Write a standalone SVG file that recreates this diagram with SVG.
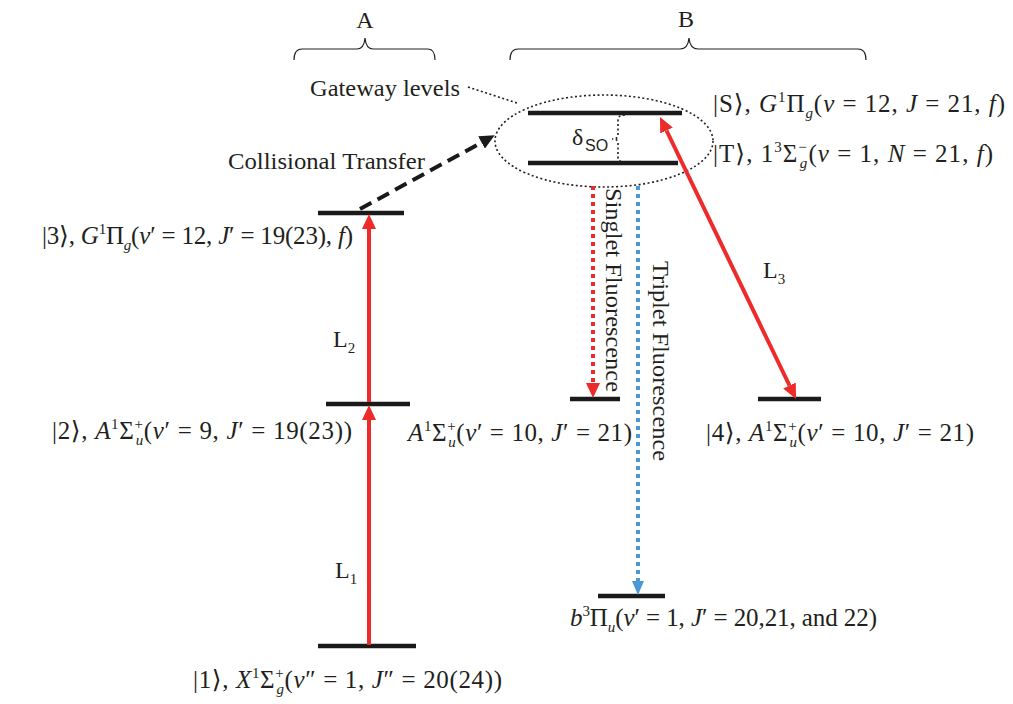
<svg xmlns="http://www.w3.org/2000/svg" width="1013" height="704" viewBox="0 0 1013 704">
<style>
.t{font-family:"Liberation Serif","DejaVu Serif",serif;font-size:24px;fill:#231f20}
.m{font-size:25px}
.i{font-style:italic}
.s{font-size:15px}
.lvl{stroke:#1a1a1a;stroke-width:4.5;fill:none}
.brace{stroke:#231f20;stroke-width:1.2;fill:none}
.dot{stroke:#231f20;stroke-width:1.6;fill:none;stroke-dasharray:2 2.5}
.red{stroke:#ee2b2b;stroke-width:4;fill:none}
.reddot{stroke:#ee2b2b;stroke-width:4;fill:none;stroke-dasharray:4 4}
.bluedot{stroke:#4a98d6;stroke-width:4;fill:none;stroke-dasharray:4 4}
.dash{stroke:#1a1a1a;stroke-width:4;fill:none;stroke-dasharray:13 7}
</style>
<defs>
<marker id="ar" markerUnits="userSpaceOnUse" markerWidth="16" markerHeight="14" refX="0" refY="7" orient="auto-start-reverse"><path d="M0,0 L15,7 L0,14 z" fill="#ee2b2b"/></marker>
<marker id="ab" markerUnits="userSpaceOnUse" markerWidth="16" markerHeight="14" refX="0" refY="7" orient="auto"><path d="M0,0 L15,7 L0,14 z" fill="#1a1a1a"/></marker>
<marker id="au" markerUnits="userSpaceOnUse" markerWidth="16" markerHeight="14" refX="0" refY="6" orient="auto"><path d="M0,0 L14,6 L0,12 z" fill="#4a98d6"/></marker>
</defs>

<g id="braces">
<text class="t" x="365" y="28" text-anchor="middle" font-size="22">A</text>
<path class="brace" d="M294,60 Q294,49 302,49 L357,49 Q364,49 365,38 Q366,49 373,49 L428,49 Q435,49 435,60"/>
<text class="t" x="686" y="27" text-anchor="middle" font-size="22">B</text>
<path class="brace" d="M510,60 Q510,49 518,49 L680,49 Q688,49 689,38 Q690,49 698,49 L858,49 Q866,49 866,60"/>
</g>

<g id="gateway">
<ellipse class="dot" cx="604" cy="141" rx="109" ry="46"/>
<path class="dot" d="M468,87 L517,103"/>
<text class="t" x="310" y="96" textLength="150" lengthAdjust="spacingAndGlyphs">Gateway levels</text>
</g>

<g id="levelS">
<line class="lvl" x1="528" y1="113" x2="682" y2="113"/>
<text class="t m" x="713" y="112" textLength="292" lengthAdjust="spacing">|S⟩, <tspan class="i">G</tspan><tspan class="s" dy="-10">1</tspan><tspan dy="10">Π</tspan><tspan class="s i" dy="6">g</tspan><tspan dy="-6">(</tspan><tspan class="i">v</tspan> = 12, <tspan class="i">J</tspan> = 21, <tspan class="i">f</tspan>)</text>
</g>

<g id="levelT">
<line class="lvl" x1="528" y1="163" x2="678" y2="163"/>
<text class="t m" x="713" y="162" textLength="280" lengthAdjust="spacing">|T⟩, 1<tspan class="s" dy="-10">3</tspan><tspan dy="10">Σ</tspan><tspan class="s" dy="-10">−</tspan><tspan class="s i" dx="-8" dy="16">g</tspan><tspan dy="-6">(</tspan><tspan class="i">v</tspan> = 1, <tspan class="i">N</tspan> = 21, <tspan class="i">f</tspan>)</text>
</g>

<g id="deltaSO">
<text class="t" x="572" y="145" font-size="22">δ</text>
<text x="585" y="151" font-family="Liberation Sans, Arial, sans-serif" font-size="16" fill="#231f20">SO</text>
<path class="dot" d="M625,115 Q618,115 618,120 L618,135 Q618,139 612,139 Q618,139 618,143 L618,158 Q618,162 625,162"/>
</g>

<g id="level3">
<line class="lvl" x1="318" y1="213" x2="404" y2="213"/>
<text class="t m" x="42" y="244" textLength="311" lengthAdjust="spacing">|3⟩, <tspan class="i">G</tspan><tspan class="s" dy="-10">1</tspan><tspan dy="10">Π</tspan><tspan class="s i" dy="6">g</tspan><tspan dy="-6">(</tspan><tspan class="i">v</tspan>′ = 12, <tspan class="i">J</tspan>′ = 19(23), <tspan class="i">f</tspan>)</text>
</g>

<g id="level2">
<line class="lvl" x1="326" y1="404" x2="410" y2="404"/>
<text class="t m" x="52" y="439" textLength="300" lengthAdjust="spacing">|2⟩, <tspan class="i">A</tspan><tspan class="s" dy="-10">1</tspan><tspan dy="10">Σ</tspan><tspan class="s" dy="-10">+</tspan><tspan class="s i" dx="-8" dy="16">u</tspan><tspan dy="-6">(</tspan><tspan class="i">v</tspan>′ = 9, <tspan class="i">J</tspan>′ = 19(23))</text>
</g>

<g id="level1">
<line class="lvl" x1="318" y1="646" x2="416" y2="646"/>
<text class="t m" x="193" y="688" textLength="309" lengthAdjust="spacing">|1⟩, <tspan class="i">X</tspan><tspan class="s" dy="-10">1</tspan><tspan dy="10">Σ</tspan><tspan class="s" dy="-10">+</tspan><tspan class="s i" dx="-8" dy="16">g</tspan><tspan dy="-6">(</tspan><tspan class="i">v</tspan>″ = 1, <tspan class="i">J</tspan>″ = 20(24))</text>
</g>

<g id="levelA10">
<line class="lvl" x1="570" y1="399" x2="620" y2="399"/>
<text class="t m" x="408" y="441" textLength="224" lengthAdjust="spacing"><tspan class="i">A</tspan><tspan class="s" dy="-10">1</tspan><tspan dy="10">Σ</tspan><tspan class="s" dy="-10">+</tspan><tspan class="s i" dx="-8" dy="16">u</tspan><tspan dy="-6">(</tspan><tspan class="i">v</tspan>′ = 10, <tspan class="i">J</tspan>′ = 21)</text>
</g>

<g id="level4">
<line class="lvl" x1="758" y1="399" x2="821" y2="399"/>
<text class="t m" x="706" y="441" textLength="268" lengthAdjust="spacing">|4⟩, <tspan class="i">A</tspan><tspan class="s" dy="-10">1</tspan><tspan dy="10">Σ</tspan><tspan class="s" dy="-10">+</tspan><tspan class="s i" dx="-8" dy="16">u</tspan><tspan dy="-6">(</tspan><tspan class="i">v</tspan>′ = 10, <tspan class="i">J</tspan>′ = 21)</text>
</g>

<g id="levelb">
<line class="lvl" x1="598" y1="596" x2="665" y2="596"/>
<text class="t m" x="570" y="626" textLength="307" lengthAdjust="spacing"><tspan class="i">b</tspan><tspan class="s" dy="-10">3</tspan><tspan dy="10">Π</tspan><tspan class="s i" dy="6">u</tspan><tspan dy="-6">(</tspan><tspan class="i">v</tspan>′ = 1, <tspan class="i">J</tspan>′ = 20,21, and  22)</text>
</g>

<g id="connectors">
<line class="red" x1="369" y1="645" x2="369" y2="420" marker-end="url(#ar)"/>
<line class="red" x1="369" y1="402" x2="369" y2="229" marker-end="url(#ar)"/>
<line class="red" x1="666.5" y1="130.5" x2="789.5" y2="385.5" marker-start="url(#ar)" marker-end="url(#ar)"/>
<line class="dash" x1="360" y1="209" x2="481.5" y2="142.5" marker-end="url(#ab)"/>
<line class="reddot" x1="593" y1="186" x2="593" y2="383" marker-end="url(#ar)"/>
<line class="bluedot" x1="638" y1="186" x2="638" y2="581" marker-end="url(#au)"/>
</g>

<g id="labels">
<text class="t" x="228" y="169" textLength="197" lengthAdjust="spacingAndGlyphs">Collisional Transfer</text>
<text class="t" x="333" y="347">L<tspan class="s" dy="6">2</tspan></text>
<text class="t" x="335" y="578">L<tspan class="s" dy="6">1</tspan></text>
<text class="t" x="763" y="278">L<tspan class="s" dy="6">3</tspan></text>
<text class="t" transform="translate(606,188) rotate(90)" textLength="204" lengthAdjust="spacingAndGlyphs">Singlet Fluorescence</text>
<text class="t" transform="translate(653,261) rotate(90)" textLength="200" lengthAdjust="spacingAndGlyphs">Triplet Fluorescence</text>
</g>
</svg>
